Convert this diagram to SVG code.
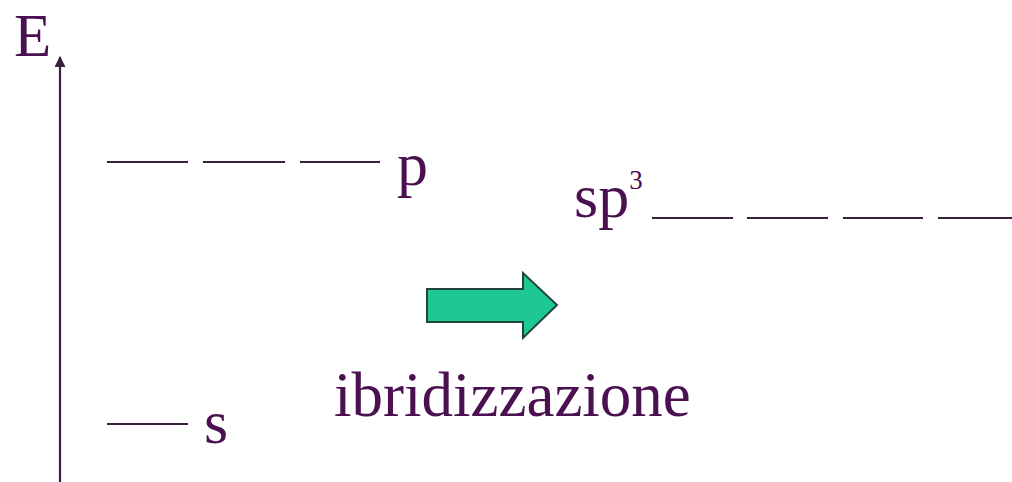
<svg xmlns="http://www.w3.org/2000/svg" width="1012" height="482" viewBox="0 0 1012 482">
<defs>
<style>
.t{font-family:"Liberation Serif","Times New Roman",serif;fill:#4a1050;}
.lvl{stroke:#3a1f3e;stroke-width:2.2;fill:none;}
</style>
<marker id="ah" viewBox="0 0 10 10" refX="9" refY="5" markerWidth="5" markerHeight="5" orient="auto" markerUnits="strokeWidth">
<path d="M0,0 L10,5 L0,10 z" fill="#3a1f3e"/>
</marker>
</defs>
<rect width="1012" height="482" fill="#ffffff"/>
<g id="connectors">
<line x1="60" y1="482" x2="60" y2="57" class="lvl" marker-end="url(#ah)"/>
</g>
<g id="axis-label">
<text class="t" x="14" y="56" font-size="61">E</text>
</g>
<g id="p-level">
<line class="lvl" x1="107" y1="162" x2="188" y2="162"/>
<line class="lvl" x1="203" y1="162" x2="285" y2="162"/>
<line class="lvl" x1="300" y1="162" x2="380" y2="162"/>
<text class="t" x="397" y="185" font-size="62">p</text>
</g>
<g id="s-level">
<line class="lvl" x1="107" y1="424" x2="188" y2="424"/>
<text class="t" x="204" y="443" font-size="62">s</text>
</g>
<g id="sp3-level">
<text class="t" x="574" y="217" font-size="62">sp<tspan font-size="27" dy="-28">3</tspan></text>
<line class="lvl" x1="652" y1="218" x2="733" y2="218"/>
<line class="lvl" x1="747" y1="218" x2="828" y2="218"/>
<line class="lvl" x1="843" y1="218" x2="923" y2="218"/>
<line class="lvl" x1="938" y1="218" x2="1012" y2="218"/>
</g>
<g id="hybridization-arrow">
<path d="M427,289 L523,289 L523,273 L557,305 L523,338 L523,322 L427,322 Z" fill="#1ec894" stroke="#24433a" stroke-width="2" stroke-linejoin="miter"/>
</g>
<g id="label">
<text class="t" x="334" y="416" font-size="63">ibridizzazione</text>
</g>
</svg>
